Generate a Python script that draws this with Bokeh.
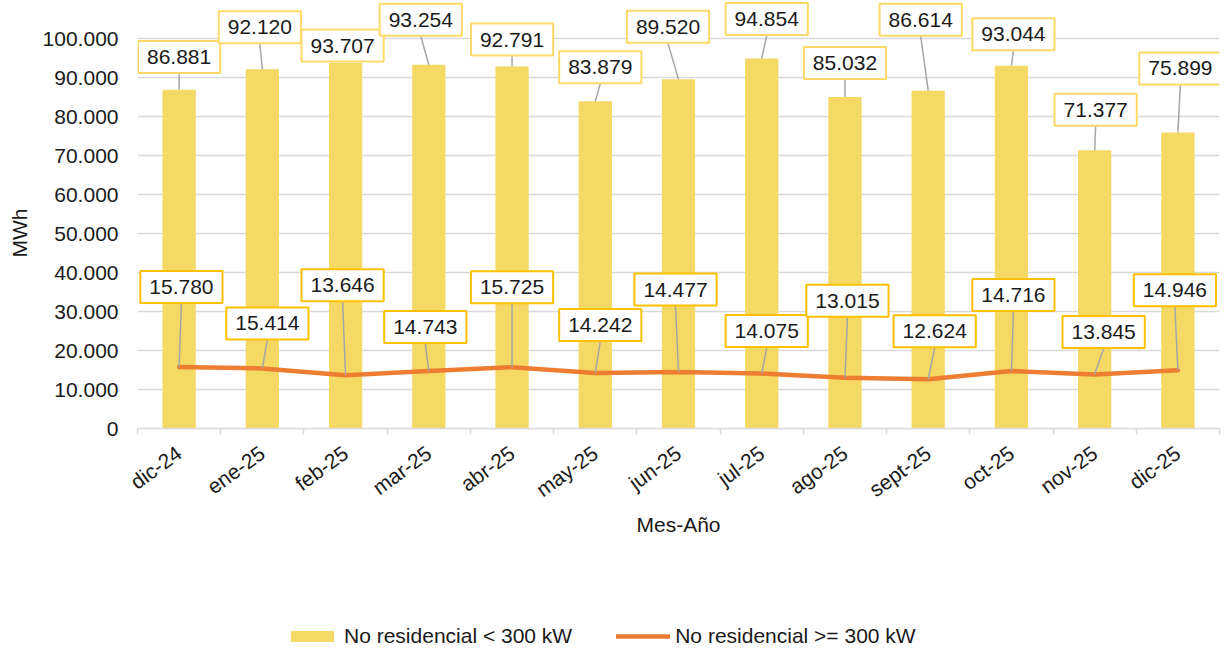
from bokeh.plotting import figure
from bokeh.layouts import column
from bokeh.models import Range1d, FixedTicker, Label, Legend, LegendItem, Title
from bokeh.embed import file_html
from bokeh.resources import INLINE

# ---- data ----
months = ["dic-24", "ene-25", "feb-25", "mar-25", "abr-25", "may-25", "jun-25",
          "jul-25", "ago-25", "sept-25", "oct-25", "nov-25", "dic-25"]
small_mwh = [86881, 92120, 93707, 93254, 92791, 83879, 89520, 94854, 85032,
             86614, 93044, 71377, 75899]
large_mwh = [15780, 15414, 13646, 14743, 15725, 14242, 14477, 14075, 13015,
             12624, 14716, 13845, 14946]
y_ticks = [0, 10000, 20000, 30000, 40000, 50000, 60000, 70000, 80000, 90000, 100000]
series_names = ["No residencial < 300 kW", "No residencial >= 300 kW"]

# ---- label layout (pixel offsets of the callout box centre from its point) ----
bar_lab_dx = [0, -2.5, -3, -8, 0, 5, -10.5, 5, 0, -7.5, 2, 1, 2.5]
bar_lab_dy = [-32.6, -42, -17.5, -45, -27, -34, -52.5, -39.5, -34, -71, -31.5, -40.3, -64]
line_lab_dx = [2.3, 5, -3, -3.5, 0, 5, -3, 5, 2.5, 6.5, 2, 9, -3]
line_lab_dy = [-80, -45, -90, -44, -80, -48, -82.5, -42.5, -77, -48, -76, -42.5, -80]

FONT = "Liberation Sans"
FS = "21px"
TXT = "#1a1a1a"
BAR_COLOR = "#F4D964"
LINE_COLOR = "#ED7D31"
FRAME_W = 1083
FRAME_H = 428          # frame height in px
PX_PER_UNIT_Y = 390 / 100000
Y_END = FRAME_H / PX_PER_UNIT_Y
BOX_HALF_H = 16.5


def fmt(v):
    return f"{v:,}".replace(",", ".")


n = len(months)
xc = [i + 0.5 for i in range(n)]
px_x = FRAME_W / n

p = figure(width=1226, height=545, x_range=Range1d(0, n), y_range=Range1d(0, Y_END),
           output_backend="svg", toolbar_location=None,
           min_border_left=136, min_border_right=7, min_border_top=0, min_border_bottom=117)
p.outline_line_color = None
p.background_fill_color = "white"

bars = p.vbar(x=xc, top=small_mwh, width=0.4, fill_color=BAR_COLOR, line_color=None)
line = p.line(xc, large_mwh, line_width=4.5, line_color=LINE_COLOR,
              line_join="round", line_cap="round")


def leaders(vals, dxs, dys):
    x0, y0, x1, y1 = [], [], [], []
    for x, v, dx, dy in zip(xc, vals, dxs, dys):
        gap = -dy - BOX_HALF_H
        if gap > 4:
            x0.append(x + dx / px_x)
            y0.append(v + gap / PX_PER_UNIT_Y)
            x1.append(x)
            y1.append(v)
    return x0, y0, x1, y1


for vals, dxs, dys in [(small_mwh, bar_lab_dx, bar_lab_dy), (large_mwh, line_lab_dx, line_lab_dy)]:
    a, b, c, d = leaders(vals, dxs, dys)
    p.segment(x0=a, y0=b, x1=c, y1=d, line_color="#A6A6A6", line_width=1.5)

for vals, dxs, dys, border in [(small_mwh, bar_lab_dx, bar_lab_dy, "#FFD966"),
                               (large_mwh, line_lab_dx, line_lab_dy, "#FFC000")]:
    for x, v, dx, dy in zip(xc, vals, dxs, dys):
        p.add_layout(Label(x=x, y=v, x_offset=dx, y_offset=-dy, text=fmt(v),
                           text_align="center", text_baseline="middle",
                           text_font=FONT, text_font_size=FS, text_color=TXT,
                           background_fill_color="white", border_line_color=border,
                           border_line_width=2, padding=(9, 9)))

# x axis
xa = p.xaxis[0]
xa.ticker = FixedTicker(ticks=xc, minor_ticks=list(range(n + 1)))
xa.major_label_overrides = {x: m for x, m in zip(xc, months)}
xa.major_tick_line_color = None
xa.major_tick_in = 0
xa.major_tick_out = 0
xa.minor_tick_in = 0
xa.minor_tick_out = 6
xa.minor_tick_line_color = "#D9D9D9"
xa.minor_tick_line_width = 1.5
xa.axis_line_color = "#D9D9D9"
xa.axis_line_width = 1.5
xa.major_label_orientation = 0.63
xa.major_label_standoff = 16
xa.major_label_text_font = FONT
xa.major_label_text_font_size = FS
xa.major_label_text_color = TXT
xa.axis_label = "Mes-Año"
xa.axis_label_text_font = FONT
xa.axis_label_text_font_size = FS
xa.axis_label_text_font_style = "normal"
xa.axis_label_text_color = TXT
xa.axis_label_standoff = 0

# y axis
ya = p.yaxis[0]
ya.ticker = FixedTicker(ticks=y_ticks)
ya.major_label_overrides = {t: fmt(t) for t in y_ticks}
ya.axis_line_color = None
ya.major_tick_line_color = None
ya.major_tick_in = 0
ya.major_tick_out = 0
ya.minor_tick_line_color = None
ya.major_label_standoff = 19
ya.major_label_text_font = FONT
ya.major_label_text_font_size = FS
ya.major_label_text_color = TXT

p.add_layout(Title(text="MWh", align="left", offset=171, standoff=14, vertical_align="top",
                   text_font=FONT, text_font_size=FS, text_font_style="normal",
                   text_color=TXT), "left")

p.xgrid.grid_line_color = None
p.ygrid.grid_line_color = "#D9D9D9"
p.ygrid.grid_line_width = 1.5

# ---- legend strip below the chart (hidden series, only the legend shows) ----
lg = figure(width=1226, height=105, x_range=Range1d(0, n), y_range=Range1d(0, Y_END),
            x_axis_type=None, y_axis_type=None, output_backend="svg",
            toolbar_location=None, min_border=0)
lg.outline_line_color = None
lg.xgrid.visible = False
lg.ygrid.visible = False
lg_bar = lg.vbar(x=xc, top=small_mwh, width=0.4, fill_color=BAR_COLOR, line_color=None,
                 visible=False)
lg_line = lg.line(x=xc, y=large_mwh, line_width=4.5, line_color=LINE_COLOR, line_cap="round",
                  visible=False)
legend = Legend(items=[LegendItem(label=series_names[0], renderers=[lg_bar]),
                       LegendItem(label=series_names[1], renderers=[lg_line])],
                orientation="horizontal", location=(148, 2),
                border_line_color=None, background_fill_alpha=0, inactive_fill_alpha=0,
                padding=0, margin=0, spacing=44, glyph_width=54, glyph_height=14,
                label_standoff=5, label_text_font=FONT, label_text_font_size=FS,
                label_text_color=TXT)
lg.add_layout(legend)

open("out.html", "w").write(file_html(column(p, lg), INLINE))
